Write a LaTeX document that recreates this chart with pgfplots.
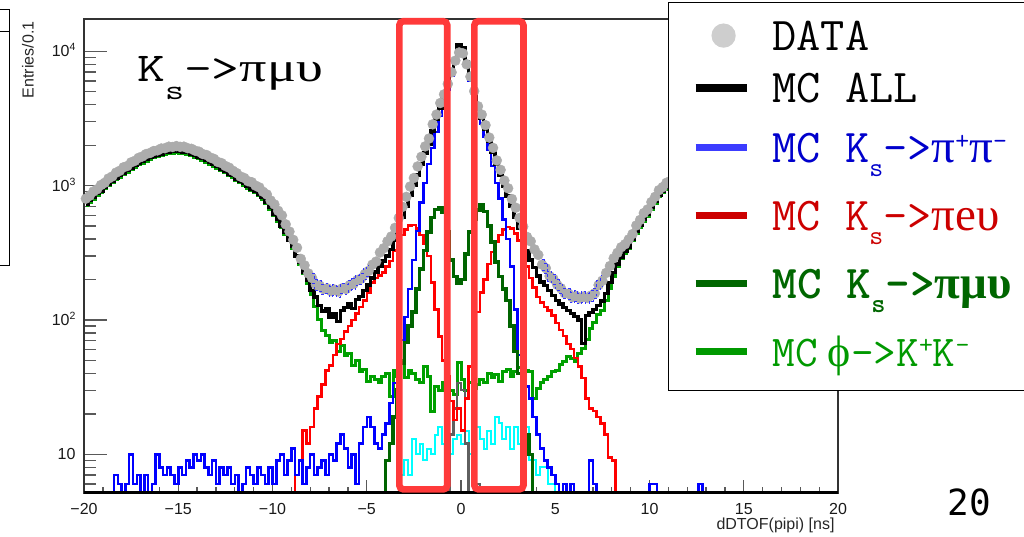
\documentclass[border=0pt]{standalone}
\usepackage{fontspec}
\usepackage{graphicx}
\usepackage{pgfplots}
\pgfplotsset{compat=1.18}
\setsansfont{Liberation Sans}
\newfontfamily\grk{Liberation Serif}
\newfontfamily\pagefont{DejaVu Sans Mono}

\definecolor{datagray}{RGB}{172,172,172}
\definecolor{legdot}{RGB}{206,206,206}
\definecolor{hblue}{RGB}{0,0,255}
\definecolor{hred}{RGB}{255,0,0}
\definecolor{hdkgreen}{RGB}{0,100,0}
\definecolor{hgreen}{RGB}{0,160,0}
\definecolor{hcyan}{RGB}{0,255,255}
\definecolor{hgray}{RGB}{95,95,95}
\definecolor{legblue}{RGB}{60,60,255}
\definecolor{legred}{RGB}{204,0,0}
\definecolor{txtblue}{RGB}{0,0,204}
\definecolor{txtred}{RGB}{204,0,0}
\definecolor{txtdkgreen}{RGB}{0,102,0}
\definecolor{txtgreen}{RGB}{0,153,0}
\definecolor{boxred}{RGB}{255,58,58}
\definecolor{baseline}{RGB}{105,140,105}

% legend row of fixed height, text centred on the key
\newcommand{\legrow}[2]{\makebox[254pt][l]{\rule[\dimexpr15pt-#1pt/2\relax]{0pt}{#1pt}\smash{#2}}}
\newcommand{\lsub}[1]{\raisebox{-14pt}{\fontsize{27}{27}\selectfont #1}}
\newcommand{\lsup}[1]{\raisebox{13pt}{\fontsize{27}{27}\selectfont #1}}
\newcommand{\legimg}[1]{\path[draw=none,fill=none] (0pt,0pt) -- (78pt,0pt); #1}

\begin{document}
\begin{tikzpicture}
\useasboundingbox (0pt,0pt) rectangle (1024pt,537pt);

% frame of the neighbouring element on the slide
\draw[black, line width=1pt] (0pt,527pt) -- (9pt,527pt) -- (9pt,271pt) -- (0pt,271pt);
\draw[black, line width=1pt] (0pt,505pt) -- (9pt,505pt);

\begin{axis}[
  at={(84pt,44pt)}, anchor=south west,
  scale only axis, width=754pt, height=474pt,
  xmin=-20, xmax=20,
  ymode=log, ymin=5.15, ymax=17400,
  clip mode=individual,
  axis line style={black!80, line width=1.3pt},
  tick pos=left, tick align=inside,
  every tick/.style={black!65, line width=1.3pt},
  major tick length=23pt, minor tick length=12pt,
  xtick style={/pgfplots/major tick length=13pt, /pgfplots/minor tick length=6.5pt},
  xtick={-20,-15,-10,-5,0,5,10,15,20},
  xticklabels={−20,−15,−10,−5,0,5,10,15,20},
  minor x tick num=4,
  ytick={10,100,1000,10000},
  yticklabels={10,
    10\raisebox{6pt}{\fontsize{10.5}{10.5}\selectfont 2},
    10\raisebox{6pt}{\fontsize{10.5}{10.5}\selectfont 3},
    10\raisebox{6pt}{\fontsize{10.5}{10.5}\selectfont 4}},
  minor ytick={6,7,8,9,20,30,40,50,60,70,80,90,200,300,400,500,600,700,800,900,2000,3000,4000,5000,6000,7000,8000,9000},
  ticklabel style={font=\sffamily\fontsize{16}{16}\selectfont, text=black!90},
  xticklabel style={anchor=center, yshift=-16pt},
  yticklabel style={anchor=base east, xshift=-5pt, yshift=-5.6pt},
  xlabel={dDTOF(pipi) [ns]},
  xlabel style={at={(axis description cs:1,0)}, anchor=east, yshift=-32pt, font=\sffamily\fontsize{16}{16}\selectfont, text=black!85},
  ylabel={Entries/0.1},
  ylabel style={at={(axis description cs:-0.0743,1.002)}, anchor=east, rotate=0, font=\sffamily\fontsize{16}{16}\selectfont, text=black!85},
  legend cell align=left,
  legend style={at={(axis description cs:0.7745,1.0359)}, anchor=north west,
    draw=black, line width=1.2pt, fill=white,
    inner xsep=0pt, inner ysep=6pt, column sep=22pt, row sep=0pt,
    nodes={inner sep=0pt, text depth=, text height=},
    font=\fontsize{47}{47}\selectfont\ttfamily},
]

% phi -> K+K- component
\addplot[forget plot, const plot mark mid, color=hgreen, line width=3pt] coordinates {
(-19.9,710) (-19.7,752) (-19.5,795) (-19.3,845) (-19.1,892) (-18.9,945) (-18.7,1000) (-18.5,1048) (-18.3,1105) (-18.1,1155)
(-17.9,1212) (-17.7,1260) (-17.5,1320) (-17.3,1368) (-17.1,1425) (-16.9,1465) (-16.7,1523) (-16.5,1562) (-16.3,1610) (-16.1,1640)
(-15.9,1678) (-15.7,1707) (-15.5,1727) (-15.3,1746) (-15.1,1756) (-14.9,1746) (-14.7,1736) (-14.5,1707) (-14.3,1668) (-14.1,1630)
(-13.9,1591) (-13.7,1542) (-13.5,1494) (-13.3,1445) (-13.1,1397) (-12.9,1339) (-12.7,1290) (-12.5,1242) (-12.3,1193) (-12.1,1145)
(-11.9,1096) (-11.7,1048) (-11.5,1009) (-11.3,960) (-11.1,922) (-10.9,883) (-10.7,844) (-10.5,795) (-10.3,737) (-10.1,669)
(-9.9,601) (-9.7,543) (-9.5,485) (-9.3,432) (-9.1,388) (-8.9,340) (-8.7,296) (-8.5,257) (-8.3,220) (-8.1,188)
(-7.9,155) (-7.7,125) (-7.5,100) (-7.3,84) (-7.1,76) (-6.9,68) (-6.7,70) (-6.5,58) (-6.3,64) (-6.1,54)
(-5.9,56) (-5.7,46) (-5.5,50) (-5.3,41) (-5.1,43) (-4.9,35) (-4.7,38) (-4.5,36) (-4.3,34) (-4.1,38)
(-3.9,40) (-3.7,27) (-3.5,42) (-3.3,38) (-3.1,50) (-2.9,37) (-2.7,42) (-2.5,40) (-2.3,36) (-2.1,34)
(-1.9,45) (-1.7,38) (-1.5,21) (-1.3,32) (-1.1,30) (-0.9,34) (-0.7,36) (-0.5,30) (-0.3,28) (-0.1,48)
(0.1,36) (0.3,30) (0.5,34) (0.7,31) (0.9,33) (1.1,36) (1.3,34) (1.5,40) (1.7,37) (1.9,39)
(2.1,35) (2.3,41) (2.5,43) (2.7,38) (2.9,41) (3.1,44) (3.3,39) (3.5,42) (3.7,41) (3.9,26)
(4.1,31) (4.3,34) (4.5,36) (4.7,38) (4.9,41) (5.1,42) (5.3,47) (5.5,49) (5.7,53) (5.9,52)
(6.1,49) (6.3,56) (6.5,61) (6.7,72) (6.9,86) (7.1,96) (7.3,110) (7.5,118) (7.7,140) (7.9,172)
(8.1,210) (8.3,250) (8.5,285) (8.7,314) (8.9,340) (9.1,388) (9.3,441) (9.5,490) (9.7,543) (9.9,592)
(10.1,669) (10.3,737) (10.5,825) (10.7,883) (10.9,941) (11.1,980) (11.3,1019) (11.5,1057) (11.7,1096) (11.9,1145)
(12.1,1193) (12.3,1242) (12.5,1290) (12.7,1339) (12.9,1387) (13.1,1436) (13.3,1484) (13.5,1533) (13.7,1571) (13.9,1610)
(14.1,1649) (14.3,1688) (14.5,1717) (14.7,1736) (14.9,1746) (15.1,1756) (15.3,1746) (15.5,1727) (15.7,1707) (15.9,1678)
(16.1,1640) (16.3,1610) (16.5,1562) (16.7,1523) (16.9,1465) (17.1,1425) (17.3,1368) (17.5,1320) (17.7,1260) (17.9,1212)
(18.1,1155) (18.3,1105) (18.5,1048) (18.7,1000) (18.9,945) (19.1,892) (19.3,845) (19.5,795) (19.7,752) (19.9,710)
};

% remaining MC component (cyan)
\addplot[forget plot, const plot mark mid, color=hcyan, line width=2pt] coordinates {
(-3.5,1) (-3.3,1) (-3.1,7) (-2.9,9) (-2.7,7) (-2.5,13) (-2.3,10) (-2.1,12) (-1.9,9) (-1.7,11)
(-1.5,10) (-1.3,14) (-1.1,16) (-0.9,12) (-0.7,8) (-0.5,10) (-0.3,13) (-0.1,14) (0.1,12) (0.3,15)
(0.5,10) (0.7,9) (0.9,16) (1.1,13) (1.3,11) (1.5,15) (1.7,12) (1.9,19) (2.1,17) (2.3,13)
(2.5,16) (2.7,11) (2.9,16) (3.1,12) (3.3,14) (3.5,16) (3.7,9) (3.9,9) (4.1,7) (4.3,8)
(4.5,8) (4.7,6) (4.9,6) (5.1,1) (5.3,1)
};

% remaining MC component (dark grey)
\addplot[forget plot, const plot mark mid, color=hgray, line width=2.5pt] coordinates {
(-0.9,1) (-0.7,1) (-0.5,14) (-0.3,22) (-0.1,34) (0.1,30) (0.3,12) (0.5,1) (0.7,1) (0.9,6) (1.1,1) (1.3,1)
};

% Ks -> pi e nu
\addplot[forget plot, const plot mark mid, color=hred, line width=2.5pt] coordinates {
(-9.1,1) (-8.9,1) (-8.7,7) (-8.5,9) (-8.3,15) (-8.1,12) (-7.9,16) (-7.7,22) (-7.5,27) (-7.3,33)
(-7.1,42) (-6.9,46) (-6.7,55) (-6.5,66) (-6.3,72) (-6.1,82) (-5.9,90) (-5.7,100) (-5.5,112) (-5.3,125)
(-5.1,140) (-4.9,160) (-4.7,190) (-4.5,205) (-4.3,215) (-4.1,225) (-3.9,250) (-3.7,275) (-3.5,330) (-3.3,390)
(-3.1,430) (-2.9,470) (-2.7,505) (-2.5,510) (-2.3,480) (-2.1,430) (-1.9,370) (-1.7,300) (-1.5,190) (-1.3,120)
(-1.1,75) (-0.9,50) (-0.7,38) (-0.5,25) (-0.3,18) (-0.1,22) (0.1,15) (0.3,26) (0.5,45) (0.7,75)
(0.9,115) (1.1,160) (1.3,200) (1.5,260) (1.7,320) (1.9,380) (2.1,430) (2.3,470) (2.5,490) (2.7,480)
(2.9,440) (3.1,390) (3.3,320) (3.5,250) (3.7,205) (3.9,175) (4.1,148) (4.3,135) (4.5,125) (4.7,118)
(4.9,108) (5.1,95) (5.3,84) (5.5,76) (5.7,66) (5.9,61) (6.1,52) (6.3,45) (6.5,37) (6.7,26)
(6.9,22) (7.1,21) (7.3,19) (7.5,17) (7.7,14) (7.9,9.5) (8.1,9) (8.3,1) (8.5,1)
};

% Ks -> pi+ pi-
\addplot[forget plot, const plot mark mid, color=hblue, line width=2.5pt] coordinates {
(-18.7,1) (-18.5,1) (-18.3,7) (-18.1,6) (-17.9,1) (-17.7,6) (-17.5,10) (-17.3,6) (-17.1,7) (-16.9,1)
(-16.7,7) (-16.5,1) (-16.3,6) (-16.1,10) (-15.9,8) (-15.7,7) (-15.5,8) (-15.3,7) (-15.1,6) (-14.9,8)
(-14.7,7) (-14.5,9) (-14.3,8) (-14.1,10) (-13.9,9) (-13.7,10) (-13.5,8) (-13.3,7) (-13.1,9) (-12.9,6)
(-12.7,8) (-12.5,7) (-12.3,8) (-12.1,6) (-11.9,7) (-11.7,1) (-11.5,6) (-11.3,8) (-11.1,7) (-10.9,6)
(-10.7,8) (-10.5,7) (-10.3,6) (-10.1,8) (-9.9,6) (-9.7,9) (-9.5,10) (-9.3,7) (-9.1,9) (-8.9,11)
(-8.7,7) (-8.5,9) (-8.3,6) (-8.1,8) (-7.9,10) (-7.7,7) (-7.5,8) (-7.3,9) (-7.1,7) (-6.9,10)
(-6.7,9) (-6.5,12) (-6.3,14) (-6.1,11) (-5.9,8) (-5.7,10) (-5.5,6) (-5.3,12) (-5.1,16) (-4.9,19)
(-4.7,16) (-4.5,12) (-4.3,11) (-4.1,14) (-3.9,17) (-3.7,24) (-3.5,34) (-3.3,50) (-3.1,71) (-2.9,105)
(-2.7,170) (-2.5,280) (-2.3,460) (-2.1,750) (-1.9,1050) (-1.7,1450) (-1.5,1900) (-1.3,2500) (-1.1,3300) (-0.9,4100)
(-0.7,5200) (-0.5,6600) (-0.3,8300) (-0.1,10300) (0.1,9800) (0.3,7800) (0.5,6000) (0.7,4600) (0.9,3700) (1.1,2900)
(1.3,2300) (1.5,1850) (1.7,1400) (1.9,1050) (2.1,800) (2.3,560) (2.5,400) (2.7,250) (2.9,120) (3.1,55)
(3.3,42) (3.5,32) (3.7,26) (3.9,19) (4.1,14) (4.3,11) (4.5,9) (4.7,8) (4.9,7) (5.1,6)
(5.3,1) (5.5,6) (5.7,1) (5.9,6) (6.1,1) (6.3,1) (6.5,1) (6.7,1) (6.9,9) (7.1,6)
(7.3,1) (7.5,1) (9.9,1) (10.1,6) (10.3,6) (10.5,1) (12.5,1) (12.7,6) (12.9,1) (13.1,1)
};

% Ks -> pi mu nu
\addplot[forget plot, const plot mark mid, color=hdkgreen, line width=3.5pt] coordinates {
(-4.5,1) (-4.3,1) (-4.1,1) (-3.9,9) (-3.7,12) (-3.5,19) (-3.3,30) (-3.1,48) (-2.9,68) (-2.7,90)
(-2.5,115) (-2.3,170) (-2.1,240) (-1.9,330) (-1.7,450) (-1.5,580) (-1.3,665) (-1.1,680) (-0.9,630) (-0.7,450)
(-0.5,280) (-0.3,210) (-0.1,188) (0.1,200) (0.3,310) (0.5,450) (0.7,560) (0.9,660) (1.1,720) (1.3,640)
(1.5,500) (1.7,380) (1.9,270) (2.1,210) (2.3,170) (2.5,140) (2.7,90) (2.9,58) (3.1,40) (3.3,30)
(3.5,14) (3.7,10) (3.9,1) (4.1,1) (4.3,1)
};

% sum of all MC components
\addplot[forget plot, const plot mark mid, color=black, line width=3.5pt] coordinates {
(-19.9,730) (-19.7,780) (-19.5,815) (-19.3,875) (-19.1,915) (-18.9,980) (-18.7,1025) (-18.5,1085) (-18.3,1135) (-18.1,1195)
(-17.9,1245) (-17.7,1305) (-17.5,1355) (-17.3,1415) (-17.1,1465) (-16.9,1515) (-16.7,1565) (-16.5,1615) (-16.3,1655) (-16.1,1695)
(-15.9,1725) (-15.7,1765) (-15.5,1775) (-15.3,1805) (-15.1,1805) (-14.9,1805) (-14.7,1785) (-14.5,1765) (-14.3,1715) (-14.1,1685)
(-13.9,1635) (-13.7,1595) (-13.5,1535) (-13.3,1495) (-13.1,1435) (-12.9,1385) (-12.7,1325) (-12.5,1285) (-12.3,1225) (-12.1,1185)
(-11.9,1125) (-11.7,1085) (-11.5,1035) (-11.3,995) (-11.1,945) (-10.9,915) (-10.7,865) (-10.5,825) (-10.3,755) (-10.1,695)
(-9.9,615) (-9.7,565) (-9.5,495) (-9.3,450) (-9.1,395) (-8.9,355) (-8.7,300) (-8.5,268) (-8.3,225) (-8.1,198)
(-7.9,166) (-7.7,148) (-7.5,128) (-7.3,117) (-7.1,122) (-6.9,104) (-6.7,112) (-6.5,97) (-6.3,118) (-6.1,124)
(-5.9,131) (-5.7,122) (-5.5,142) (-5.3,150) (-5.1,166) (-4.9,182) (-4.7,205) (-4.5,228) (-4.3,252) (-4.1,275)
(-3.9,300) (-3.7,335) (-3.5,390) (-3.3,480) (-3.1,580) (-2.9,700) (-2.7,850) (-2.5,1000) (-2.3,1200) (-2.1,1450)
(-1.9,1750) (-1.7,2050) (-1.5,2550) (-1.3,3100) (-1.1,3800) (-0.9,4450) (-0.7,5500) (-0.5,6900) (-0.3,8700) (-0.1,11200)
(0.1,10600) (0.3,8300) (0.5,6400) (0.7,4900) (0.9,3750) (1.1,3200) (1.3,2650) (1.5,2150) (1.7,1780) (1.9,1440)
(2.1,1190) (2.3,990) (2.5,840) (2.7,700) (2.9,580) (3.1,480) (3.3,395) (3.5,325) (3.7,280) (3.9,245)
(4.1,212) (4.3,192) (4.5,180) (4.7,166) (4.9,152) (5.1,140) (5.3,132) (5.5,124) (5.7,118) (5.9,112)
(6.1,106) (6.3,100) (6.5,67) (6.7,108) (6.9,114) (7.1,120) (7.3,128) (7.5,138) (7.7,158) (7.9,190)
(8.1,225) (8.3,262) (8.5,292) (8.7,322) (8.9,350) (9.1,400) (9.3,455) (9.5,505) (9.7,560) (9.9,610)
(10.1,690) (10.3,760) (10.5,850) (10.7,910) (10.9,970) (11.1,1010) (11.3,1050) (11.5,1090) (11.7,1130) (11.9,1180)
(12.1,1230) (12.3,1280) (12.5,1330) (12.7,1380) (12.9,1430) (13.1,1480) (13.3,1530) (13.5,1580) (13.7,1620) (13.9,1660)
(14.1,1700) (14.3,1740) (14.5,1770) (14.7,1790) (14.9,1800) (15.1,1810) (15.3,1800) (15.5,1780) (15.7,1760) (15.9,1730)
(16.1,1690) (16.3,1660) (16.5,1610) (16.7,1570) (16.9,1510) (17.1,1470) (17.3,1410) (17.5,1360) (17.7,1300) (17.9,1250)
(18.1,1190) (18.3,1140) (18.5,1080) (18.7,1030) (18.9,975) (19.1,920) (19.3,870) (19.5,820) (19.7,775) (19.9,730)
};

% data
\addplot[forget plot, color=datagray, only marks, mark=*, mark size=5pt, mark options={draw=datagray, fill=datagray}] coordinates {
(-19.9,800) (-19.7,840) (-19.5,905) (-19.3,940) (-19.1,1010) (-18.9,1050) (-18.7,1130) (-18.5,1170) (-18.3,1250) (-18.1,1290)
(-17.9,1370) (-17.7,1400) (-17.5,1490) (-17.3,1530) (-17.1,1610) (-16.9,1650) (-16.7,1720) (-16.5,1750) (-16.3,1810) (-16.1,1830)
(-15.9,1890) (-15.7,1900) (-15.5,1950) (-15.3,1940) (-15.1,1970) (-14.9,1945) (-14.7,1950) (-14.5,1900) (-14.3,1880) (-14.1,1820)
(-13.9,1790) (-13.7,1720) (-13.5,1690) (-13.3,1620) (-13.1,1580) (-12.9,1500) (-12.7,1470) (-12.5,1400) (-12.3,1360) (-12.1,1290)
(-11.9,1240) (-11.7,1170) (-11.5,1140) (-11.3,1080) (-11.1,1060) (-10.9,1000) (-10.7,970) (-10.5,900) (-10.3,860) (-10.1,775)
(-9.9,725) (-9.7,650) (-9.5,600) (-9.3,515) (-9.1,455) (-8.9,395) (-8.7,345) (-8.5,285) (-8.3,255) (-8.1,222)
(-7.9,205) (-7.7,183) (-7.5,180) (-7.3,170) (-7.1,172) (-6.9,164) (-6.7,168) (-6.5,163) (-6.3,172) (-6.1,170)
(-5.9,182) (-5.7,186) (-5.5,198) (-5.3,203) (-5.1,220) (-4.9,232) (-4.7,258) (-4.5,272) (-4.3,318) (-4.1,342)
(-3.9,385) (-3.7,418) (-3.5,485) (-3.3,575) (-3.1,695) (-2.9,825) (-2.7,985) (-2.5,1140) (-2.3,1390) (-2.1,1640)
(-1.9,1960) (-1.7,2240) (-1.5,2860) (-1.3,3380) (-1.1,4120) (-0.9,4780) (-0.7,5720) (-0.5,6980) (-0.3,8520) (-0.1,9800)
(0.1,9650) (0.3,8000) (0.5,6480) (0.7,5050) (0.9,3900) (1.1,3380) (1.3,2820) (1.5,2280) (1.7,1910) (1.9,1540)
(2.1,1310) (2.3,1090) (2.5,955) (2.7,795) (2.9,685) (3.1,575) (3.3,495) (3.5,415) (3.7,385) (3.9,335)
(4.1,305) (4.3,258) (4.5,243) (4.7,212) (4.9,202) (5.1,183) (5.3,172) (5.5,158) (5.7,157) (5.9,148)
(6.1,151) (6.3,145) (6.5,149) (6.7,146) (6.9,152) (7.1,158) (7.3,182) (7.5,196) (7.7,224) (7.9,252)
(8.1,288) (8.3,316) (8.5,348) (8.7,366) (8.9,398) (9.1,436) (9.3,505) (9.5,555) (9.7,625) (9.9,665)
(10.1,755) (10.3,825) (10.5,925) (10.7,975) (10.9,1050) (11.1,1080) (11.3,1140) (11.5,1170) (11.7,1240) (11.9,1280)
(12.1,1350) (12.3,1380) (12.5,1450) (12.7,1490) (12.9,1560) (13.1,1600) (13.3,1660) (13.5,1700) (13.7,1760) (13.9,1790)
(14.1,1850) (14.3,1870) (14.5,1910) (14.7,1920) (14.9,1960) (15.1,1950) (15.3,1950) (15.5,1920) (15.7,1900) (15.9,1850)
(16.1,1820) (16.3,1760) (16.5,1730) (16.7,1660) (16.9,1620) (17.1,1540) (17.3,1500) (17.5,1420) (17.7,1380) (17.9,1300)
(18.1,1260) (18.3,1190) (18.5,1140) (18.7,1080) (18.9,1030) (19.1,970) (19.3,930) (19.5,880) (19.7,840) (19.9,790)
};

% statistical band of the data in the two valleys
\addplot[forget plot, const plot mark mid, color=hblue!80, line width=0.8pt, dash pattern=on 2.5pt off 2.5pt] coordinates {
(-7.9,223) (-7.7,199) (-7.5,196) (-7.3,185) (-7.1,187) (-6.9,179) (-6.7,183) (-6.5,178) (-6.3,187) (-6.1,185)
(-5.9,198) (-5.7,203) (-5.5,216) (-5.3,221) (-5.1,240) (-4.9,253)
};
\addplot[forget plot, const plot mark mid, color=hblue!80, line width=0.8pt, dash pattern=on 2.5pt off 2.5pt] coordinates {
(-7.9,187) (-7.7,167) (-7.5,164) (-7.3,155) (-7.1,157) (-6.9,149) (-6.7,153) (-6.5,148) (-6.3,157) (-6.1,155)
(-5.9,166) (-5.7,169) (-5.5,180) (-5.3,185) (-5.1,200) (-4.9,211)
};
\addplot[forget plot, const plot mark mid, color=hblue!80, line width=0.8pt, dash pattern=on 2.5pt off 2.5pt] coordinates {
(4.3,281) (4.5,265) (4.7,231) (4.9,220) (5.1,199) (5.3,187) (5.5,172) (5.7,171) (5.9,161) (6.1,165)
(6.3,158) (6.5,162) (6.7,159) (6.9,166) (7.1,172) (7.3,198) (7.5,214)
};
\addplot[forget plot, const plot mark mid, color=hblue!80, line width=0.8pt, dash pattern=on 2.5pt off 2.5pt] coordinates {
(4.3,235) (4.5,221) (4.7,193) (4.9,184) (5.1,167) (5.3,157) (5.5,144) (5.7,143) (5.9,135) (6.1,137)
(6.3,132) (6.5,136) (6.7,133) (6.9,138) (7.1,144) (7.3,166) (7.5,178)
};

% empty bins drawn along the bottom edge
\draw[baseline, line width=3pt] (rel axis cs:0,0) -- (rel axis cs:1,0);

% selected time windows
\draw[boxred, line width=6.7pt, rounded corners=4pt] (axis cs:-3.27,5.48) rectangle (axis cs:-0.73,16750);
\draw[boxred, line width=6.7pt, rounded corners=4pt] (axis cs:0.71,5.48) rectangle (axis cs:3.31,16750);

% legend
\addlegendimage{legend image code/.code={\legimg{\fill[legdot] (55pt,0pt) circle[radius=11.5pt];}}}
\addlegendentry{\legrow{54}{DATA}}
\addlegendimage{legend image code/.code={\legimg{\draw[black, line width=8pt] (27pt,0pt) -- (78pt,0pt);}}}
\addlegendentry{\legrow{50}{MC ALL}}
\addlegendimage{legend image code/.code={\legimg{\draw[legblue, line width=7.5pt] (27pt,0pt) -- (78pt,0pt);}}}
\addlegendentry{\legrow{70}{\color{txtblue}MC K\lsub{s}->{\grk π}\lsup{+}{\grk π}\lsup{-}}}
\addlegendimage{legend image code/.code={\legimg{\draw[legred, line width=7.5pt] (27pt,0pt) -- (78pt,0pt);}}}
\addlegendentry{\legrow{66}{\color{txtred}MC K\lsub{s}->{\grk πeυ}}}
\addlegendimage{legend image code/.code={\legimg{\draw[txtdkgreen, line width=7.5pt] (27pt,0pt) -- (78pt,0pt);}}}
\addlegendentry{\legrow{70}{\color{txtdkgreen}\bfseries MC K\lsub{s}->{\grk\bfseries πμυ}}}
\addlegendimage{legend image code/.code={\legimg{\draw[txtgreen, line width=7.5pt] (27pt,0pt) -- (78pt,0pt);}}}
\addlegendentry{\legrow{66}{\color{txtgreen}\fontsize{44}{44}\selectfont MC\hspace{10pt}{\grk ϕ}->K\lsup{+}K\lsup{-}}}
\end{axis}

% decay channel shown
\node[anchor=base west, inner sep=0pt] at (137pt,455pt)
  {\scalebox{1.32}[1]{\fontsize{41}{41}\selectfont\ttfamily K\raisebox{-18pt}{\fontsize{28}{28}\selectfont s}->{\grk πμυ}}};

% slide number
\node[anchor=center, inner sep=0pt] at (969pt,35pt) {\pagefont\fontsize{36}{36}\selectfont 20};
\end{tikzpicture}
\end{document}
